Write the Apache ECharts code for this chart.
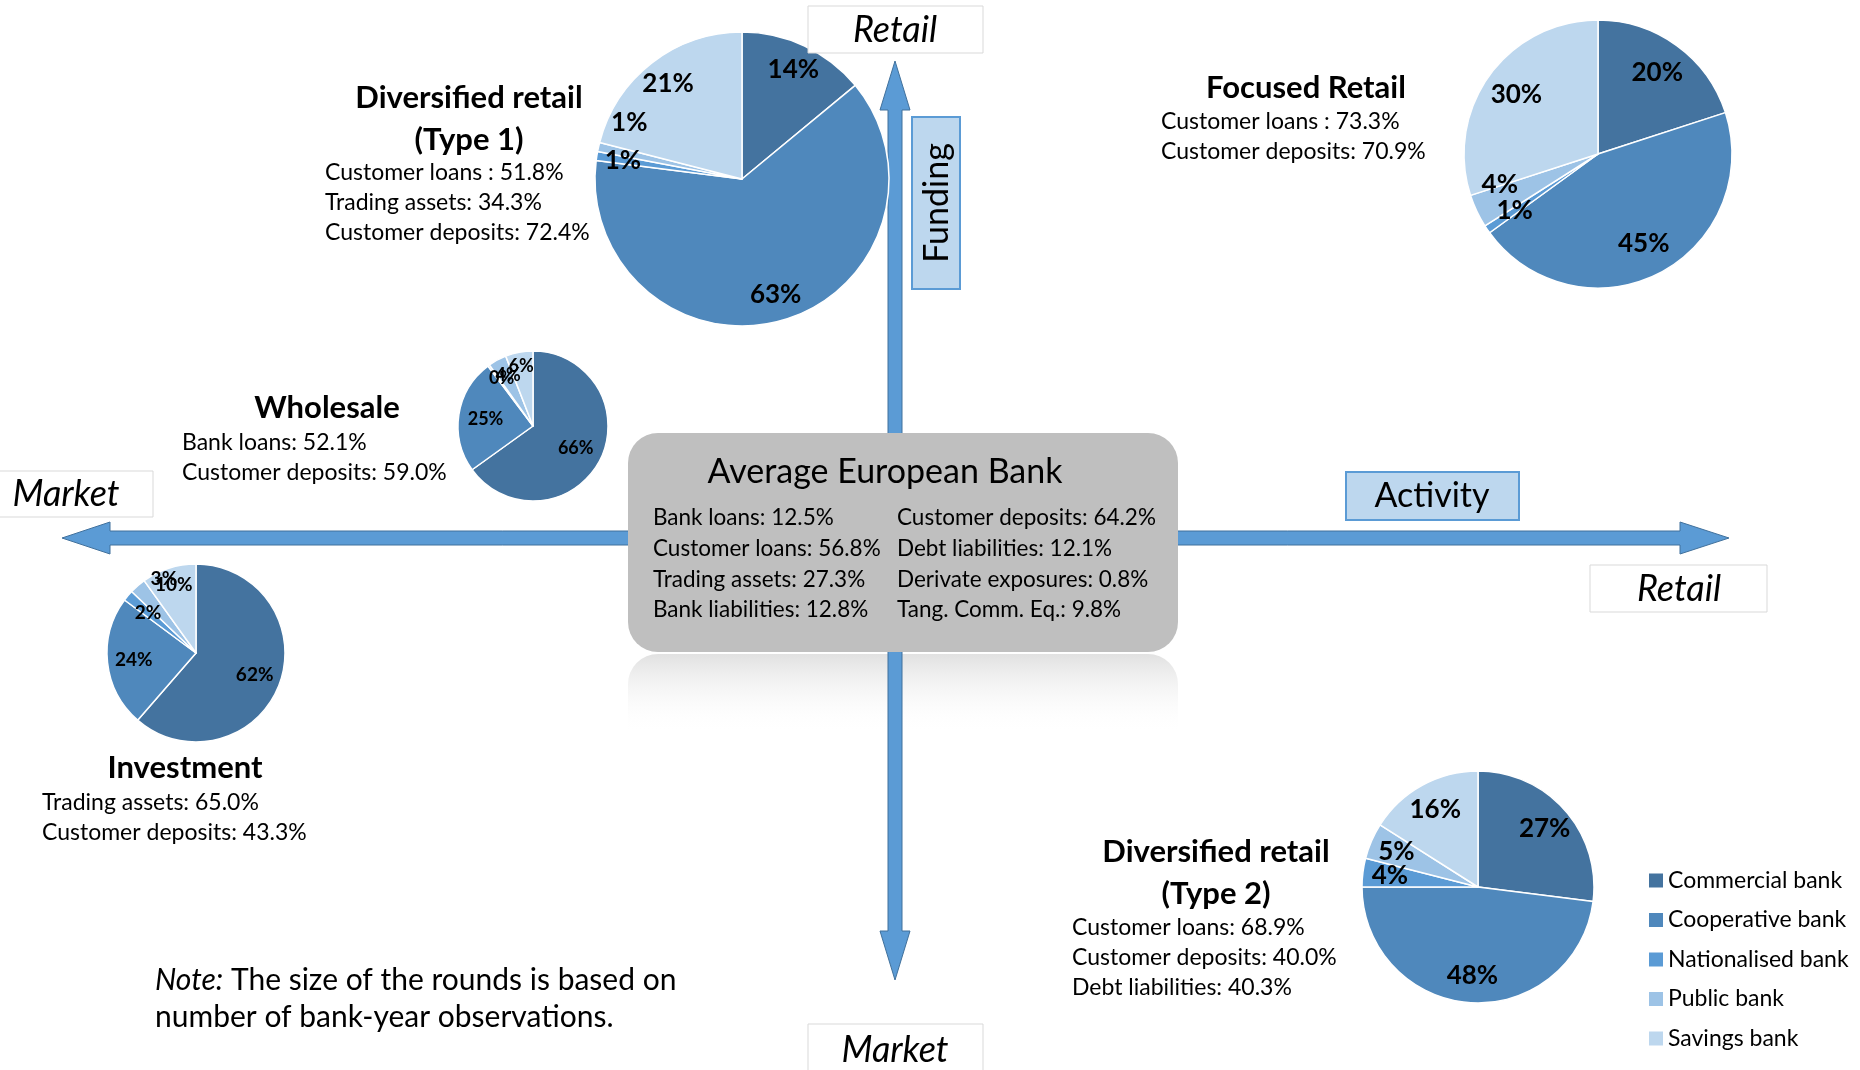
<!DOCTYPE html>
<html>
<head>
<meta charset="utf-8">
<title>European bank business models</title>
<script src="https://cdn.jsdelivr.net/npm/echarts@6/dist/echarts.min.js"></script>
<style>
  html, body { margin: 0; padding: 0; background: #fff; }
  #chart { width: 1860px; height: 1070px; }
</style>
</head>
<body>
<div id="chart"></div>
<script>
// bank types (legend) and the share of each type in every cluster
const bankTypes = ['Commercial bank', 'Cooperative bank', 'Nationalised bank', 'Public bank', 'Savings bank'];
const type1Shares = [14, 63, 1, 1, 21];
const focusedShares = [20, 45, 1, 4, 30];
const wholesaleShares = [66, 25, 0.4, 4, 6];
const investmentShares = [62, 24, 2, 3, 10];
const type2Shares = [27, 48, 4, 5, 16];

// cluster descriptions
const type1Stats = ['Customer loans : 51.8%', 'Trading assets: 34.3%', 'Customer deposits: 72.4%'];
const focusedStats = ['Customer loans : 73.3%', 'Customer deposits: 70.9%'];
const wholesaleStats = ['Bank loans: 52.1%', 'Customer deposits: 59.0%'];
const investmentStats = ['Trading assets: 65.0%', 'Customer deposits: 43.3%'];
const type2Stats = ['Customer loans: 68.9%', 'Customer deposits: 40.0%', 'Debt liabilities: 40.3%'];
const averageLeft = ['Bank loans: 12.5%', 'Customer loans: 56.8%', 'Trading assets: 27.3%', 'Bank liabilities: 12.8%'];
const averageRight = ['Customer deposits: 64.2%', 'Debt liabilities: 12.1%', 'Derivate exposures: 0.8%', 'Tang. Comm. Eq.: 9.8%'];

const FONT = 'Lato';
const colors = ['#44739f', '#4f88bc', '#5b9bd5', '#9dc3e6', '#bdd7ee'];

// pie + a transparent ring that only carries the labels (puts them further out than 'inside')
// nudges: label offsets for crowded small slices, like the excel best-fit placement
const makePie = (name, shares, cx, cy, r, labelSize, labelPos, nudges) => {
  const base = shares.map((v, i) => ({ name: bankTypes[i], value: v }));
  const labelled = shares.map((v, i) => {
    const item = { name: bankTypes[i], value: v };
    if (nudges && nudges[i]) item.label = { offset: nudges[i] };
    return item;
  });
  return [
    {
      type: 'pie', name: name, center: [cx, cy], radius: [0, r], startAngle: 90,
      data: base, silent: true,
      label: { show: false }, labelLine: { show: false },
      itemStyle: { borderColor: '#fff', borderWidth: 1.5 },
      emphasis: { disabled: true }
    },
    {
      type: 'pie', name: name + ' labels', center: [cx, cy],
      radius: [r * (2 * labelPos - 1), r], startAngle: 90,
      data: labelled, silent: true, legendHoverLink: false,
      itemStyle: { color: 'rgba(0,0,0,0)', borderWidth: 0 },
      labelLine: { show: false },
      labelLayout: { hideOverlap: false },
      label: {
        show: true, position: 'inside', color: '#000',
        fontFamily: FONT, fontWeight: 'bold', fontSize: labelSize,
        formatter: p => Math.round(p.value) + '%'
      },
      emphasis: { disabled: true }
    }
  ];
};

const text = (x, y, str, size, extra) => ({
  type: 'text', x: x, y: y, z: 10,
  style: Object.assign({
    text: str, fill: '#000', fontFamily: FONT, fontSize: size,
    align: 'left', verticalAlign: 'middle'
  }, extra || {})
});

const lines = (x, y0, step, arr, size) => arr.map((s, i) => text(x, y0 + i * step, s, size));

const box = (x, y, w, h, fill, stroke, lw) => ({
  type: 'rect', z: 5, shape: { x: x, y: y, width: w, height: h },
  style: { fill: fill, stroke: stroke, lineWidth: lw }
});

const arrowFill = '#5b9bd5';
const arrowStroke = '#41719c';
const italic = { align: 'center', fontStyle: 'italic' };

const elements = [
  // reflection under the average bank box
  { type: 'rect', z: 1, shape: { x: 628, y: 654, width: 550, height: 80, r: [30, 30, 0, 0] },
    style: { fill: new echarts.graphic.LinearGradient(0, 0, 0, 1, [
      { offset: 0, color: 'rgba(200,200,200,0.55)' },
      { offset: 1, color: 'rgba(255,255,255,0)' }]) } },
  // horizontal double arrow (activity)
  { type: 'polygon', z: 2,
    shape: { points: [[62, 538], [110, 522], [110, 531], [1680, 531], [1680, 522], [1729, 538],
                      [1680, 554], [1680, 545], [110, 545], [110, 554]] },
    style: { fill: arrowFill, stroke: arrowStroke, lineWidth: 1 } },
  // vertical double arrow (funding)
  { type: 'polygon', z: 2,
    shape: { points: [[895, 61], [910, 110], [902, 110], [902, 931], [910, 931], [895, 980],
                      [880, 931], [888, 931], [888, 110], [880, 110]] },
    style: { fill: arrowFill, stroke: arrowStroke, lineWidth: 1 } },
  // average bank box
  { type: 'rect', z: 3, shape: { x: 628, y: 433, width: 550, height: 219, r: 30 },
    style: { fill: '#bfbfbf' } },
  text(885, 472, 'Average European Bank', 34, { align: 'center' })
];

elements.push(...lines(653, 518, 30.7, averageLeft, 22.5));
elements.push(...lines(897, 518, 30.7, averageRight, 22.5));

// axis end labels
elements.push(
  box(808, 6, 175, 47, '#fff', '#d9d9d9', 1), text(895, 30, 'Retail', 36, italic),
  box(808, 1024, 175, 52, '#fff', '#d9d9d9', 1), text(895, 1050, 'Market', 36, italic),
  box(-2, 471, 155, 46, '#fff', '#d9d9d9', 1), text(66, 494, 'Market', 36, italic),
  box(1590, 565, 177, 47, '#fff', '#d9d9d9', 1), text(1679, 589, 'Retail', 36, italic),
  box(1346, 472, 173, 48, '#bdd7ee', '#5b9bd5', 2), text(1432, 496, 'Activity', 34, { align: 'center' }),
  box(912, 117, 48, 172, '#bdd7ee', '#5b9bd5', 2),
  Object.assign(text(937, 203, 'Funding', 34, { align: 'center' }), { rotation: Math.PI / 2 })
);

// cluster titles and descriptions
const bold = { align: 'center', fontWeight: 'bold' };
elements.push(text(469, 98, 'Diversified retail', 31, bold), text(469, 140, '(Type 1)', 31, bold));
elements.push(...lines(325, 173, 30, type1Stats, 23));
elements.push(text(1306, 88, 'Focused Retail', 31, bold));
elements.push(...lines(1161, 122, 30, focusedStats, 23));
elements.push(text(327, 408, 'Wholesale', 31, bold));
elements.push(...lines(182, 443, 30, wholesaleStats, 23));
elements.push(text(185, 768, 'Investment', 31, bold));
elements.push(...lines(42, 803, 30, investmentStats, 23));
elements.push(text(1216, 852, 'Diversified retail', 31, bold), text(1216, 894, '(Type 2)', 31, bold));
elements.push(...lines(1072, 928, 30, type2Stats, 23));

// note
elements.push({
  type: 'text', x: 155, y: 999, z: 10,
  style: {
    text: '{i|Note:} The size of the rounds is based on\nnumber of bank-year observations.',
    fill: '#000', fontFamily: FONT, fontSize: 30, lineHeight: 37,
    align: 'left', verticalAlign: 'middle',
    rich: { i: { fontStyle: 'italic', fontFamily: FONT, fontSize: 30, lineHeight: 37 } }
  }
});

const chart = echarts.init(document.getElementById('chart'));
chart.setOption({
  animation: false,
  backgroundColor: '#fff',
  color: colors,
  textStyle: { fontFamily: FONT },
  legend: {
    data: bankTypes,
    orient: 'vertical',
    left: 1644, top: 864,
    itemWidth: 14, itemHeight: 14, itemGap: 16.5,
    icon: 'rect',
    itemStyle: { borderWidth: 0 },
    textStyle: { fontFamily: FONT, fontSize: 23, lineHeight: 20, color: '#000' }
  },
  graphic: { elements: elements },
  series: [
    ...makePie('Diversified retail (Type 1)', type1Shares, 742, 179, 147, 26, 0.8, { 3: [5, -30] }),
    ...makePie('Focused Retail', focusedShares, 1598, 154, 134, 26, 0.73, { 3: [-7, -12] }),
    ...makePie('Wholesale', wholesaleShares, 533, 426, 75, 18, 0.6, { 2: [-3, -9], 3: [-2, -9], 4: [-3, -13] }),
    ...makePie('Investment', investmentShares, 196, 653, 89, 19, 0.67, { 3: [9, -27], 4: [-3, -9] }),
    ...makePie('Diversified retail (Type 2)', type2Shares, 1478, 887, 116, 26, 0.74)
  ]
});
</script>
</body>
</html>
